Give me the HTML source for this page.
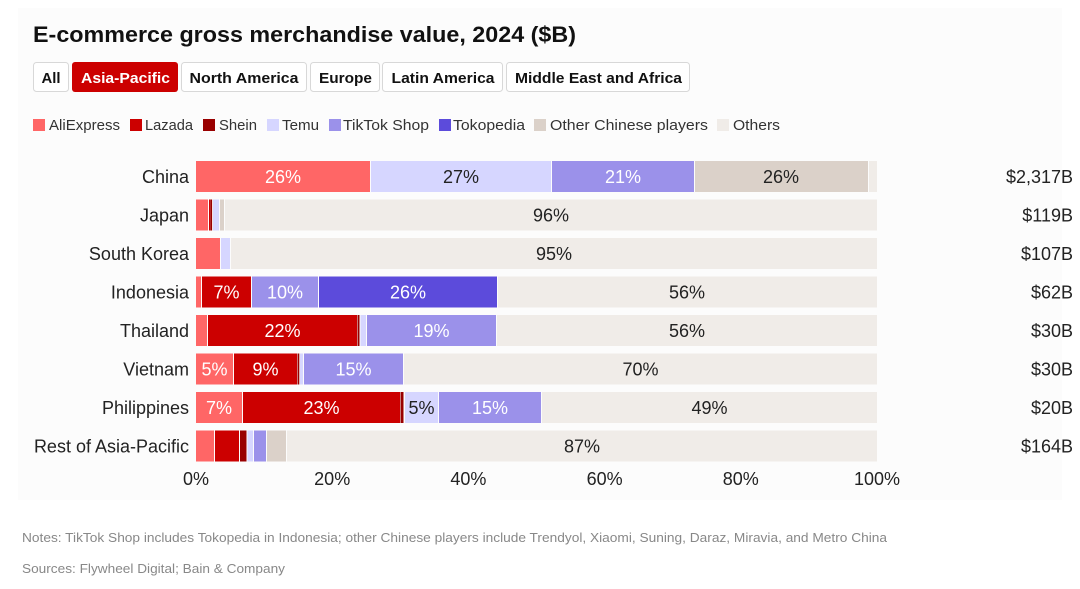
<!DOCTYPE html>
<html>
<head>
<meta charset="utf-8">
<style>
  html,body{margin:0;padding:0;background:#ffffff;}
  body{width:1080px;height:589px;overflow:hidden;}
  svg{display:block;}
  text{font-family:"Liberation Sans",Arial,sans-serif;}
</style>
</head>
<body>
<svg width="1080" height="589" viewBox="0 0 1080 589" xmlns="http://www.w3.org/2000/svg">
  <rect x="0" y="0" width="1080" height="589" fill="#ffffff"/>
  <rect x="18" y="8" width="1044" height="492" fill="#fcfcfc"/>

  <!-- Title -->
  <text x="33" y="42" font-size="22" font-weight="bold" fill="#111" textLength="543" lengthAdjust="spacingAndGlyphs">E-commerce gross merchandise value, 2024 ($B)</text>

  <!-- Buttons -->
  <g font-size="15" font-weight="bold" text-anchor="middle">
    <rect x="33.5" y="62.5" width="35" height="29" rx="3" fill="#fff" stroke="#d8d8d8"/>
    <text x="51" y="83" fill="#111" textLength="19" lengthAdjust="spacingAndGlyphs">All</text>
    <rect x="72" y="62" width="106" height="30" rx="3" fill="#cc0000"/>
    <text x="125.5" y="83" fill="#fff" textLength="89" lengthAdjust="spacingAndGlyphs">Asia-Pacific</text>
    <rect x="181.5" y="62.5" width="125" height="29" rx="3" fill="#fff" stroke="#d8d8d8"/>
    <text x="244" y="83" fill="#111" textLength="109" lengthAdjust="spacingAndGlyphs">North America</text>
    <rect x="310.5" y="62.5" width="69" height="29" rx="3" fill="#fff" stroke="#d8d8d8"/>
    <text x="345.5" y="83" fill="#111" textLength="53" lengthAdjust="spacingAndGlyphs">Europe</text>
    <rect x="382.5" y="62.5" width="120" height="29" rx="3" fill="#fff" stroke="#d8d8d8"/>
    <text x="443" y="83" fill="#111" textLength="103" lengthAdjust="spacingAndGlyphs">Latin America</text>
    <rect x="506.5" y="62.5" width="183" height="29" rx="3" fill="#fff" stroke="#d8d8d8"/>
    <text x="598.5" y="83" fill="#111" textLength="167" lengthAdjust="spacingAndGlyphs">Middle East and Africa</text>
  </g>

  <!-- Legend -->
  <g font-size="15" fill="#333">
    <rect x="33" y="119" width="12" height="12" fill="#ff6666"/>
    <text x="49" y="130" textLength="71" lengthAdjust="spacingAndGlyphs">AliExpress</text>
    <rect x="130" y="119" width="12" height="12" fill="#cc0000"/>
    <text x="145" y="130" textLength="48" lengthAdjust="spacingAndGlyphs">Lazada</text>
    <rect x="203" y="119" width="12" height="12" fill="#990000"/>
    <text x="219" y="130" textLength="38" lengthAdjust="spacingAndGlyphs">Shein</text>
    <rect x="267" y="119" width="12" height="12" fill="#d6d6ff"/>
    <text x="282" y="130" textLength="37" lengthAdjust="spacingAndGlyphs">Temu</text>
    <rect x="329" y="119" width="12" height="12" fill="#9b91ea"/>
    <text x="343" y="130" textLength="86" lengthAdjust="spacingAndGlyphs">TikTok Shop</text>
    <rect x="439" y="119" width="12" height="12" fill="#5c4bdb"/>
    <text x="453" y="130" textLength="72" lengthAdjust="spacingAndGlyphs">Tokopedia</text>
    <rect x="534" y="119" width="12" height="12" fill="#dbd1c9"/>
    <text x="550" y="130" textLength="158" lengthAdjust="spacingAndGlyphs">Other Chinese players</text>
    <rect x="717" y="119" width="12" height="12" fill="#f0ece8"/>
    <text x="733" y="130" textLength="47" lengthAdjust="spacingAndGlyphs">Others</text>
  </g>

  <!-- Country labels -->
  <g font-size="18" fill="#222" text-anchor="end">
    <text x="189" y="183">China</text>
    <text x="189" y="221.5">Japan</text>
    <text x="189" y="260">South Korea</text>
    <text x="189" y="298.5">Indonesia</text>
    <text x="189" y="337">Thailand</text>
    <text x="189" y="375.5">Vietnam</text>
    <text x="189" y="414">Philippines</text>
    <text x="189" y="452.5">Rest of Asia-Pacific</text>
  </g>

  <!-- Value labels -->
  <g font-size="18" fill="#222" text-anchor="end">
    <text x="1073" y="183">$2,317B</text>
    <text x="1073" y="221.5">$119B</text>
    <text x="1073" y="260">$107B</text>
    <text x="1073" y="298.5">$62B</text>
    <text x="1073" y="337">$30B</text>
    <text x="1073" y="375.5">$30B</text>
    <text x="1073" y="414">$20B</text>
    <text x="1073" y="452.5">$164B</text>
  </g>

  <!-- Bars -->
  <!-- China y=161 -->
  <g>
    <rect x="196" y="161" width="174" height="31" fill="#ff6666"/>
    <rect x="371" y="161" width="180" height="31" fill="#d6d6ff"/>
    <rect x="552" y="161" width="142" height="31" fill="#9b91ea"/>
    <rect x="695" y="161" width="173" height="31" fill="#dbd1c9"/>
    <rect x="869" y="161" width="8" height="31" fill="#f0ece8"/>
  </g>
  <!-- Japan y=199.5 -->
  <g>
    <rect x="196" y="199.5" width="12" height="31" fill="#ff6666"/>
    <rect x="209" y="199.5" width="1.2" height="31" fill="#cc0000"/>
    <rect x="210.3" y="199.5" width="1.8" height="31" fill="#990000"/>
    <rect x="213" y="199.5" width="6" height="31" fill="#d6d6ff"/>
    <rect x="220" y="199.5" width="4" height="31" fill="#dbd1c9"/>
    <rect x="225" y="199.5" width="652" height="31" fill="#f0ece8"/>
  </g>
  <!-- South Korea y=238 -->
  <g>
    <rect x="196" y="238" width="24" height="31" fill="#ff6666"/>
    <rect x="221" y="238" width="9" height="31" fill="#d6d6ff"/>
    <rect x="231" y="238" width="646" height="31" fill="#f0ece8"/>
  </g>
  <!-- Indonesia y=276.5 -->
  <g>
    <rect x="196" y="276.5" width="5" height="31" fill="#ff6666"/>
    <rect x="202" y="276.5" width="49" height="31" fill="#cc0000"/>
    <rect x="252" y="276.5" width="66" height="31" fill="#9b91ea"/>
    <rect x="319" y="276.5" width="178" height="31" fill="#5c4bdb"/>
    <rect x="498" y="276.5" width="379" height="31" fill="#f0ece8"/>
  </g>
  <!-- Thailand y=315 -->
  <g>
    <rect x="196" y="315" width="11" height="31" fill="#ff6666"/>
    <rect x="208" y="315" width="149" height="31" fill="#cc0000"/>
    <rect x="357.5" y="315" width="2" height="31" fill="#990000"/>
    <rect x="360.5" y="315" width="5.5" height="31" fill="#d6d6ff"/>
    <rect x="367" y="315" width="129" height="31" fill="#9b91ea"/>
    <rect x="497" y="315" width="380" height="31" fill="#f0ece8"/>
  </g>
  <!-- Vietnam y=353.5 -->
  <g>
    <rect x="196" y="353.5" width="37" height="31" fill="#ff6666"/>
    <rect x="234" y="353.5" width="63" height="31" fill="#cc0000"/>
    <rect x="297.5" y="353.5" width="1.8" height="31" fill="#990000"/>
    <rect x="300" y="353.5" width="3" height="31" fill="#d6d6ff"/>
    <rect x="304" y="353.5" width="99" height="31" fill="#9b91ea"/>
    <rect x="404" y="353.5" width="473" height="31" fill="#f0ece8"/>
  </g>
  <!-- Philippines y=392 -->
  <g>
    <rect x="196" y="392" width="46" height="31" fill="#ff6666"/>
    <rect x="243" y="392" width="157" height="31" fill="#cc0000"/>
    <rect x="400.5" y="392" width="3" height="31" fill="#990000"/>
    <rect x="405" y="392" width="33" height="31" fill="#d6d6ff"/>
    <rect x="439" y="392" width="102" height="31" fill="#9b91ea"/>
    <rect x="542" y="392" width="335" height="31" fill="#f0ece8"/>
  </g>
  <!-- Rest y=430.5 -->
  <g>
    <rect x="196" y="430.5" width="18" height="31" fill="#ff6666"/>
    <rect x="215" y="430.5" width="24" height="31" fill="#cc0000"/>
    <rect x="240" y="430.5" width="6.5" height="31" fill="#990000"/>
    <rect x="247.5" y="430.5" width="5.5" height="31" fill="#d6d6ff"/>
    <rect x="254" y="430.5" width="12" height="31" fill="#9b91ea"/>
    <rect x="267" y="430.5" width="19" height="31" fill="#dbd1c9"/>
    <rect x="287" y="430.5" width="590" height="31" fill="#f0ece8"/>
  </g>

  <!-- Bar labels -->
  <g font-size="18" text-anchor="middle">
    <text x="283" y="183" fill="#fff">26%</text>
    <text x="461" y="183" fill="#222">27%</text>
    <text x="623" y="183" fill="#fff">21%</text>
    <text x="781" y="183" fill="#222">26%</text>

    <text x="551" y="221.5" fill="#222">96%</text>
    <text x="554" y="260" fill="#222">95%</text>

    <text x="226.5" y="298.5" fill="#fff">7%</text>
    <text x="285" y="298.5" fill="#fff">10%</text>
    <text x="408" y="298.5" fill="#fff">26%</text>
    <text x="687" y="298.5" fill="#222">56%</text>

    <text x="282.5" y="337" fill="#fff">22%</text>
    <text x="431.5" y="337" fill="#fff">19%</text>
    <text x="687" y="337" fill="#222">56%</text>

    <text x="214.5" y="375.5" fill="#fff">5%</text>
    <text x="265.5" y="375.5" fill="#fff">9%</text>
    <text x="353.5" y="375.5" fill="#fff">15%</text>
    <text x="640.5" y="375.5" fill="#222">70%</text>

    <text x="219" y="414" fill="#fff">7%</text>
    <text x="321.5" y="414" fill="#fff">23%</text>
    <text x="421.5" y="414" fill="#222">5%</text>
    <text x="490" y="414" fill="#fff">15%</text>
    <text x="709.5" y="414" fill="#222">49%</text>

    <text x="582" y="452.5" fill="#222">87%</text>
  </g>

  <!-- Axis tick labels -->
  <g font-size="18" fill="#222" text-anchor="middle">
    <text x="196" y="485">0%</text>
    <text x="332.2" y="485">20%</text>
    <text x="468.4" y="485">40%</text>
    <text x="604.6" y="485">60%</text>
    <text x="740.8" y="485">80%</text>
    <text x="877" y="485">100%</text>
  </g>

  <!-- Notes -->
  <text x="22" y="542" font-size="13" fill="#888" textLength="865" lengthAdjust="spacingAndGlyphs">Notes: TikTok Shop includes Tokopedia in Indonesia; other Chinese players include Trendyol, Xiaomi, Suning, Daraz, Miravia, and Metro China</text>
  <text x="22" y="573" font-size="13" fill="#888" textLength="263" lengthAdjust="spacingAndGlyphs">Sources: Flywheel Digital; Bain &amp; Company</text>
</svg>
</body>
</html>
